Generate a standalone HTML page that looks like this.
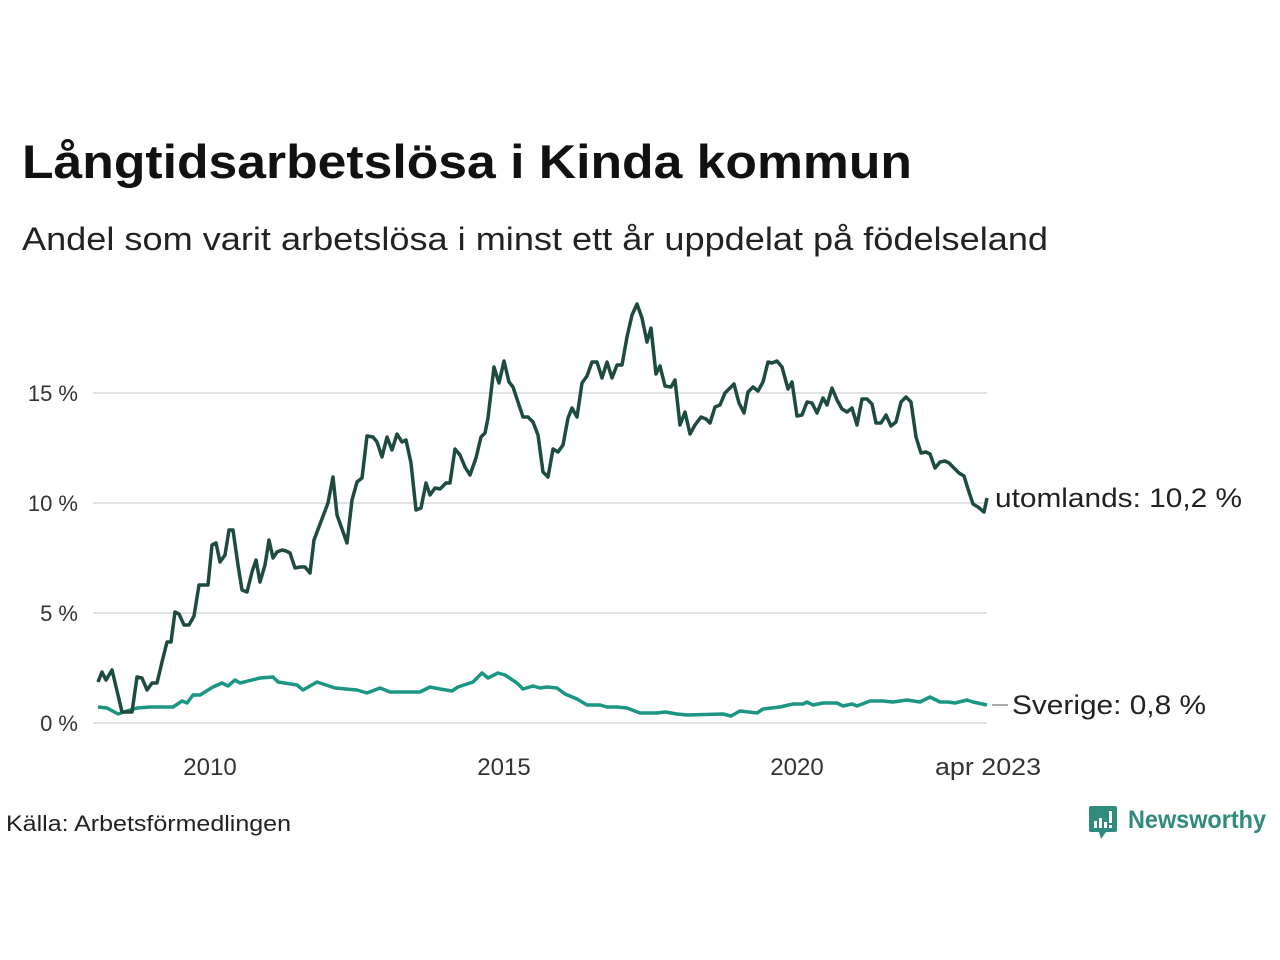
<!DOCTYPE html>
<html><head><meta charset="utf-8"><style>
body{margin:0;background:#fff;width:1280px;height:960px;overflow:hidden;font-family:"Liberation Sans",sans-serif;}
</style></head><body>
<svg width="1280" height="960" xmlns="http://www.w3.org/2000/svg" style="position:absolute;left:0;top:0">
<text x="22" y="178" font-size="47" font-weight="bold" fill="#111" textLength="890" lengthAdjust="spacingAndGlyphs">Långtidsarbetslösa i Kinda kommun</text>
<text x="22" y="250" font-size="32" fill="#222" textLength="1026" lengthAdjust="spacingAndGlyphs">Andel som varit arbetslösa i minst ett år uppdelat på födelseland</text>
<g stroke="#e2e2e2" stroke-width="2">
<line x1="93" x2="987" y1="393" y2="393"/><line x1="93" x2="987" y1="503" y2="503"/>
<line x1="93" x2="987" y1="613" y2="613"/><line x1="93" x2="987" y1="723" y2="723"/>
</g>
<g font-size="22" fill="#333" text-anchor="end">
<text x="78" y="401">15 %</text><text x="78" y="511">10 %</text><text x="78" y="621">5 %</text><text x="78" y="731">0 %</text>
</g>
<g font-size="24" fill="#333" text-anchor="middle">
<text x="210" y="775">2010</text><text x="504" y="775">2015</text><text x="797" y="775">2020</text><text x="988" y="775" textLength="106" lengthAdjust="spacingAndGlyphs">apr 2023</text>
</g>
<polyline fill="none" stroke="#1a9683" stroke-width="3.5" stroke-linejoin="round" points="98,707 107,708 118,714 127,711 137,708 150,707 173,707 182,701 187,703 193,695 200,695 213,687 222,683 228,686 235,680 240,683 260,678 273,677 278,682 297,685 303,690 310,686 317,682 335,688 357,690 367,693 380,688 390,692 410,692 420,692 430,687 440,689 452,691 458,687 473,682 482,673 488,678 498,673 505,675 517,683 523,689 533,686 540,688 547,687 557,688 565,694 577,699 587,705 600,705 607,707 617,707 627,708 640,713 657,713 665,712 677,714 687,715 723,714 731,716 740,711 757,713 763,709 780,707 793,704 803,704 807,702 813,705 823,703 837,703 843,706 852,704 857,706 870,701 883,701 893,702 907,700 920,702 930,697 940,702 948,702 955,703 967,700 973,702 987,705"/>
<polyline fill="none" stroke="#1d4b40" stroke-width="3.5" stroke-linejoin="round" points="98,682 102,672 106,680 112,670 118,695 122,712 132,712 137,677 142,678 147,690 152,683 157,683 162,662 167,642 171,642 175,612 179,614 184,625 189,625 194,616 199,585 203,585 208,585 212,545 216,543 220,562 225,555 229,530 233,530 238,565 242,590 247,592 252,572 256,560 260,582 265,565 269,540 273,558 277,552 282,550 286,551 290,553 295,568 300,567 305,567 310,573 314,540 328,503 333,477 337,515 347,543 352,500 357,482 362,478 367,436 373,437 377,442 382,457 387,437 392,450 397,434 402,442 406,440 411,463 416,510 421,508 426,483 430,495 435,488 440,489 446,483 450,483 455,449 460,455 465,467 470,475 476,458 481,437 485,433 488,418 494,367 499,383 504,361 509,382 513,387 523,417 528,417 533,422 538,435 543,472 548,477 553,449 558,452 563,445 568,418 572,408 577,417 582,383 587,376 592,362 597,362 602,378 607,362 612,378 617,365 622,365 627,337 632,315 637,304 642,318 647,342 651,328 656,374 660,366 665,386 671,387 675,380 680,425 685,412 690,434 695,425 701,417 706,419 710,423 715,407 720,405 725,393 730,388 734,384 739,403 744,413 748,392 753,387 758,391 763,382 768,362 772,363 777,361 782,367 788,389 792,382 797,416 802,415 807,402 812,403 817,413 823,398 827,405 832,388 837,400 842,409 847,412 852,408 857,425 862,399 867,399 872,404 876,423 881,423 886,415 891,426 896,422 901,402 906,397 911,402 916,437 921,453 926,452 930,454 935,468 940,462 945,461 949,463 954,468 959,473 964,476 968,489 973,504 978,507 984,512 987,498"/>
<text x="995" y="507" font-size="27" fill="#222" textLength="247" lengthAdjust="spacingAndGlyphs">utomlands: 10,2 %</text>
<line x1="992" x2="1008" y1="705" y2="705" stroke="#555" stroke-width="1"/>
<text x="1012" y="714" font-size="27" fill="#222" textLength="194" lengthAdjust="spacingAndGlyphs">Sverige:  0,8 %</text>
<text x="6" y="831" font-size="22" fill="#222" textLength="285" lengthAdjust="spacingAndGlyphs">Källa: Arbetsförmedlingen</text>
<g transform="translate(1089,806)">
<path d="M0,2 Q0,0 2,0 L26,0 Q28,0 28,2 L28,24 Q28,26 26,26 L17,26 L12,33 L10,26 L2,26 Q0,26 0,24 Z" fill="#2e8b7d"/>
<rect x="5" y="15" width="3" height="7" fill="#fff"/><rect x="10" y="12" width="3" height="10" fill="#fff"/><rect x="15" y="16" width="3" height="6" fill="#fff"/><rect x="20" y="5" width="3" height="12" fill="#fff"/><rect x="20" y="19" width="3" height="3" fill="#fff"/>
</g>
<text x="1128" y="828" font-size="25" font-weight="bold" fill="#2e8b7d" textLength="138" lengthAdjust="spacingAndGlyphs">Newsworthy</text>
</svg>
</body></html>
